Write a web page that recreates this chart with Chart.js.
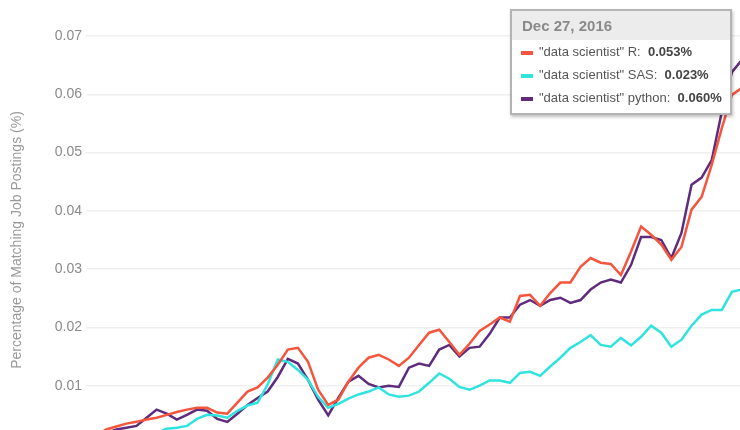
<!DOCTYPE html>
<html>
<head>
<meta charset="utf-8">
<script src="https://cdn.jsdelivr.net/npm/chart.js@4.4.0/dist/chart.umd.min.js"></script>
<style>
    html, body { margin: 0; padding: 0; background: #fff; overflow: hidden; }
    #wrap { position: relative; width: 740px; height: 430px; overflow: hidden; }
    #grafico { position: absolute; left: 0; top: 0; }
    #tip {
        position: absolute; left: 510px; top: 9px; width: 218px; height: 102px;
        border: 2px solid #b4b4b4; background: #fff;
        box-shadow: 1px 2px 3px rgba(0,0,0,0.25);
        font-family: "Liberation Sans", Arial, sans-serif;
    }
    #tip .head {
        background: #ececec; height: 29px; line-height: 29px;
        padding-left: 10px; font-size: 15px; color: #8a8a8a; font-weight: bold;
    }
    #tip .row { height: 23px; line-height: 23px; font-size: 13px; color: #555; padding-left: 9px; white-space: nowrap; }
    #tip .row:first-of-type { margin-top: 3px; }
    #tip .sw { display: inline-block; width: 12px; height: 4px; margin-right: 6px; vertical-align: middle; }
    #tip b { color: #444; }
</style>
</head>
<body>
<div id="wrap">
    <canvas id="grafico" width="742" height="470"></canvas>
    <div id="tip"></div>
</div>
<script>
// Series names, colours and tooltip
const series = ['"data scientist" R', '"data scientist" SAS', '"data scientist" python'];
const colores = ["#f4553c", "#2fe3df", "#5f2b7c"];
const fechaTooltip = "Dec 27, 2016";
const valoresTooltip = ["0.053%", "0.023%", "0.060%"];

// Y ticks
const ticksY = [0, 0.01, 0.02, 0.03, 0.04, 0.05, 0.06, 0.07];

// Values (percent of postings), roughly monthly up to Dec 2016
const valoresR = [
    0.0007, 0.0014, 0.0025, 0.0030, 0.0035, 0.0038, 0.0042, 0.0045, 0.0050, 0.0055,
    0.0059, 0.0062, 0.0062, 0.0054, 0.0052, 0.0071, 0.0090, 0.0097, 0.0114, 0.0136,
    0.0162, 0.0165, 0.0141, 0.0093, 0.0067, 0.0076, 0.0107, 0.0131, 0.0148, 0.0153,
    0.0145, 0.0134, 0.0148, 0.0170, 0.0191, 0.0196, 0.0175, 0.0153, 0.0172, 0.0194,
    0.0205, 0.0217, 0.0210, 0.0254, 0.0256, 0.0237, 0.0259, 0.0277, 0.0277, 0.0304,
    0.0319, 0.0311, 0.0309, 0.0290, 0.0330, 0.0373, 0.0359, 0.0342, 0.0316, 0.0338,
    0.0402, 0.0424, 0.0479, 0.0542, 0.0599, 0.0611
];
const valoresSAS = [
    0.0002, 0.0004, 0.0006, 0.0008, 0.0010, 0.0012, 0.0015, 0.0019, 0.0026, 0.0028,
    0.0031, 0.0043, 0.0050, 0.0049, 0.0045, 0.0057, 0.0066, 0.0071, 0.0102, 0.0145,
    0.0141, 0.0127, 0.0110, 0.0081, 0.0062, 0.0069, 0.0078, 0.0085, 0.0090, 0.0097,
    0.0085, 0.0081, 0.0083, 0.0090, 0.0105, 0.0121, 0.0112, 0.0098, 0.0093, 0.0100,
    0.0109, 0.0109, 0.0105, 0.0122, 0.0124, 0.0117, 0.0133, 0.0148, 0.0165, 0.0175,
    0.0187, 0.0170, 0.0167, 0.0182, 0.0169, 0.0184, 0.0203, 0.0191, 0.0167, 0.0179,
    0.0203, 0.0222, 0.0230, 0.0230, 0.0261, 0.0265
];
const valoresPython = [
    0.0004, 0.0011, 0.0018, 0.0025, 0.0028, 0.0031, 0.0045, 0.0059, 0.0052, 0.0042,
    0.0050, 0.0059, 0.0057, 0.0043, 0.0038, 0.0052, 0.0067, 0.0079, 0.0090, 0.0115,
    0.0146, 0.0138, 0.0110, 0.0076, 0.0049, 0.0079, 0.0107, 0.0117, 0.0103, 0.0097,
    0.0100, 0.0098, 0.0131, 0.0138, 0.0134, 0.0162, 0.0170, 0.0150, 0.0165, 0.0167,
    0.0189, 0.0217, 0.0217, 0.0239, 0.0247, 0.0237, 0.0247, 0.0251, 0.0242, 0.0247,
    0.0265, 0.0277, 0.0282, 0.0277, 0.0307, 0.0355, 0.0355, 0.0350, 0.0319, 0.0362,
    0.0445, 0.0457, 0.0487, 0.0570, 0.0638, 0.0659
];

// Categories: one label per point, monthly, ending at the tooltip date
const meses = ["Jan", "Feb", "Mar", "Apr", "May", "Jun", "Jul", "Aug", "Sep", "Oct", "Nov", "Dec"];
const etiquetas = [];
for (let i = valoresR.length - 1; i >= 0; i--) {
    const m = 11 - (i % 12);
    const a = 2016 - Math.floor(i / 12);
    etiquetas.push(meses[m] + " " + a);
}

// Tooltip box as real text
const tip = document.getElementById("tip");
let html = '<div class="head">' + fechaTooltip + '</div>';
series.forEach((s, i) => {
    html += '<div class="row"><span class="sw" style="background:' + colores[i] + '"></span>' +
        s + ':&nbsp; <b>' + valoresTooltip[i] + '</b></div>';
});
tip.innerHTML = html;

const ctx = document.getElementById("grafico").getContext("2d");
new Chart(ctx, {
    type: "line",
    data: {
        labels: etiquetas,
        datasets: [valoresR, valoresSAS, valoresPython].map((d, i) => ({
            label: series[i],
            data: d,
            borderColor: colores[i],
            backgroundColor: colores[i],
            borderWidth: 2.5,
            pointRadius: 0,
            tension: 0,
            fill: false
        }))
    },
    options: {
        responsive: false,
        animation: false,
        layout: { padding: { top: 36, bottom: 26, left: 0, right: 0 } },
        plugins: {
            legend: { display: false },
            tooltip: { enabled: false }
        },
        scales: {
            x: { display: false },
            y: {
                min: 0,
                max: 0.07,
                afterFit: (s) => { s.width = 86; },
                afterBuildTicks: (s) => { s.ticks = ticksY.map(v => ({ value: v })); },
                border: { display: false },
                grid: { color: "#efefef", lineWidth: 1.5, drawTicks: false },
                ticks: {
                    padding: 4,
                    color: "#8a8a8a",
                    font: { family: "'Liberation Sans', Arial, sans-serif", size: 14 },
                    callback: (v) => v.toFixed(2)
                },
                title: {
                    display: true,
                    text: "Percentage of Matching Job Postings (%)",
                    color: "#9a9a9a",
                    padding: { top: 9, bottom: 0 },
                    font: { family: "'Liberation Sans', Arial, sans-serif", size: 14 }
                }
            }
        }
    }
});
</script>
</body>
</html>
